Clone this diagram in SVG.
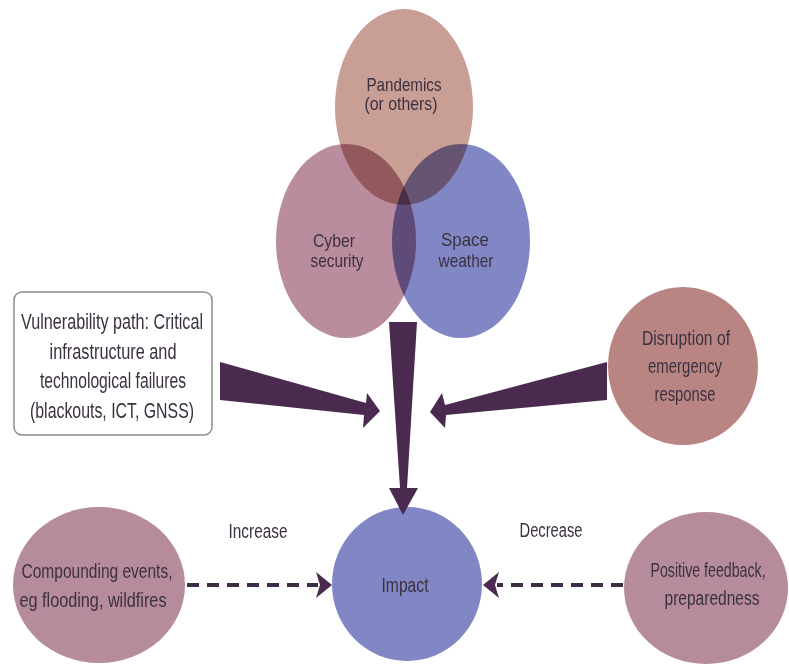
<svg xmlns="http://www.w3.org/2000/svg" width="789" height="664" viewBox="0 0 789 664">
<style>
text{font-family:"Liberation Sans",Arial,sans-serif;fill:#3b3140;text-anchor:middle}
.t19{font-size:19px}
.t20{font-size:20px}
.t22{font-size:22px}
.blend{mix-blend-mode:multiply}
.arrow{fill:#4a2b4f}
.dash{stroke:#3d2c45;stroke-width:4;stroke-dasharray:12 8;fill:none}
</style>
<rect width="789" height="664" fill="#ffffff"/>
<g id="venn" style="isolation:isolate">
  <g id="pandemics">
    <ellipse class="blend" cx="404" cy="107" rx="69" ry="98" fill="#c99e94"/>
  </g>
  <g id="cyber">
    <ellipse class="blend" cx="346" cy="241" rx="70" ry="97" fill="#b98d9d"/>
  </g>
  <g id="space">
    <ellipse class="blend" cx="461" cy="241" rx="69" ry="97" fill="#8187c4"/>
  </g>
</g>
<g id="venn-labels">
  <text class="t19" x="404" y="91" textLength="75" lengthAdjust="spacingAndGlyphs">Pandemics</text>
  <text class="t19" x="401" y="110" textLength="73" lengthAdjust="spacingAndGlyphs">(or others)</text>
  <text class="t19" x="334" y="247" textLength="42" lengthAdjust="spacingAndGlyphs">Cyber</text>
  <text class="t19" x="337" y="267" textLength="53" lengthAdjust="spacingAndGlyphs">security</text>
  <text class="t19" x="465" y="246" textLength="48" lengthAdjust="spacingAndGlyphs">Space</text>
  <text class="t19" x="466" y="267" textLength="55" lengthAdjust="spacingAndGlyphs">weather</text>
</g>
<g id="vulnerability">
  <rect x="14" y="292" width="198" height="143" rx="8" fill="#ffffff" stroke="#8c8c8c" stroke-width="1.5"/>
  <text class="t22" x="112" y="329" textLength="182" lengthAdjust="spacingAndGlyphs">Vulnerability path: Critical</text>
  <text class="t22" x="113" y="359" textLength="127" lengthAdjust="spacingAndGlyphs">infrastructure and</text>
  <text class="t22" x="113" y="388" textLength="146" lengthAdjust="spacingAndGlyphs">technological failures</text>
  <text class="t22" x="112" y="418" textLength="164" lengthAdjust="spacingAndGlyphs">(blackouts, ICT, GNSS)</text>
</g>
<g id="disruption">
  <ellipse cx="683" cy="366" rx="75" ry="79" fill="#b98583"/>
  <text class="t20" x="686" y="345" textLength="88" lengthAdjust="spacingAndGlyphs">Disruption of</text>
  <text class="t20" x="685" y="373" textLength="74" lengthAdjust="spacingAndGlyphs">emergency</text>
  <text class="t20" x="685" y="401" textLength="61" lengthAdjust="spacingAndGlyphs">response</text>
</g>
<g id="compounding">
  <ellipse cx="99" cy="585" rx="86" ry="78" fill="#b68b9b"/>
  <text class="t20" x="97" y="578" textLength="151" lengthAdjust="spacingAndGlyphs">Compounding events,</text>
  <text class="t20" x="93" y="607" textLength="147" lengthAdjust="spacingAndGlyphs">eg flooding, wildfires</text>
</g>
<g id="impact">
  <ellipse cx="407" cy="584" rx="75" ry="77" fill="#8187c4"/>
  <text class="t20" x="405" y="592" textLength="47" lengthAdjust="spacingAndGlyphs">Impact</text>
</g>
<g id="positive">
  <ellipse cx="706" cy="588" rx="82" ry="76" fill="#b68b9b"/>
  <text class="t20" transform="translate(708,577) scale(0.71,1)" x="0" y="0">Positive feedback,</text>
  <text class="t20" x="712" y="605" textLength="95" lengthAdjust="spacingAndGlyphs">preparedness</text>
</g>
<g id="connectors">
  <polygon class="arrow" points="389,322 417,322 407,488 418,488 403,515 389,488 400,488"/>
  <polygon class="arrow" points="220,362 366,403 367,393 380,411 363,428 364,415 220,400"/>
  <polygon class="arrow" points="607,362 445,405 442,393 430,412 445,428 446,415 607,400"/>
  <line class="dash" x1="187" y1="585" x2="318" y2="585"/>
  <polygon class="arrow" points="316,572 332,585 316,598 320,585"/>
  <line class="dash" x1="623" y1="585" x2="497" y2="585"/>
  <polygon class="arrow" points="499,572 483,585 499,598 495,585"/>
  <text class="t20" x="258" y="538" textLength="59" lengthAdjust="spacingAndGlyphs">Increase</text>
  <text class="t20" x="551" y="537" textLength="63" lengthAdjust="spacingAndGlyphs">Decrease</text>
</g>
</svg>
